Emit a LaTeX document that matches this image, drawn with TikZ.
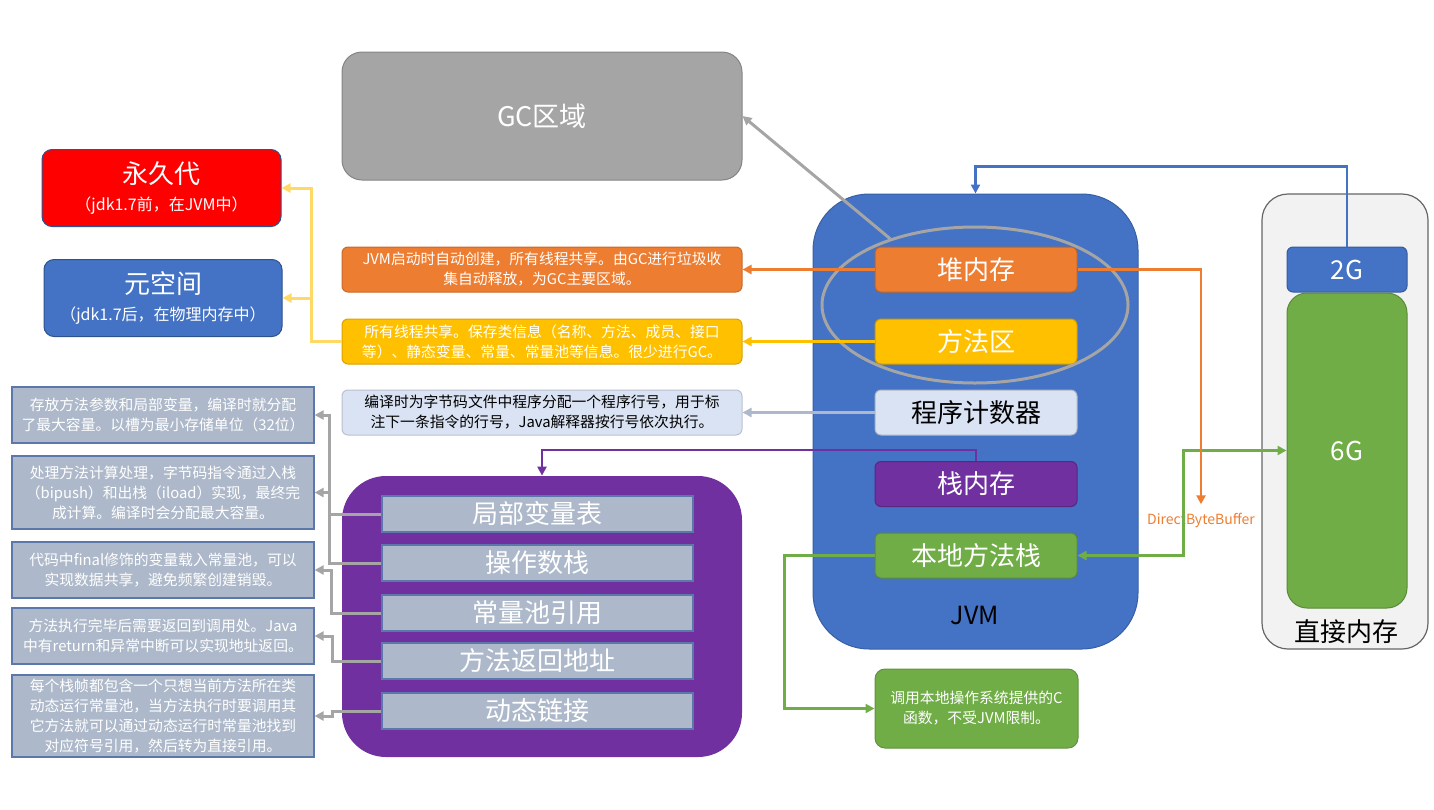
\documentclass[tikz,border=0pt]{standalone}
\usepackage{fontspec}
\setmainfont{Noto Sans CJK SC}
\usetikzlibrary{arrows.meta,positioning,shapes.geometric}
\definecolor{GCGray}{HTML}{A5A5A5}
\definecolor{JBlue}{HTML}{4472C4}
\definecolor{JDark}{HTML}{2F528F}
\definecolor{JOrange}{HTML}{ED7D31}
\definecolor{JGold}{HTML}{FFC000}
\definecolor{JLight}{HTML}{DAE3F3}
\definecolor{JPurple}{HTML}{7030A0}
\definecolor{JGreen}{HTML}{70AD47}
\definecolor{NoteGray}{HTML}{ADB9CA}
\definecolor{LineYellow}{HTML}{FFD966}
\definecolor{JRed}{HTML}{FF0000}

\begin{document}
\begin{tikzpicture}[x=0.5pt,y=-0.5pt,
    area/.style={fill=#1,draw=#1!80!black,line width=0.5pt,rounded corners=3pt,
      minimum width=101pt,minimum height=22.5pt,inner sep=0pt,text=white,
      font=\fontsize{13}{15}\selectfont},
    note/.style={fill=#1,draw=#1!85!black,line width=0.5pt,rounded corners=3pt,
      minimum width=200pt,minimum height=22.5pt,inner sep=1pt,align=center,
      text=white,font=\fontsize{7.4}{10}\selectfont},
    slot/.style={fill=NoteGray,draw=JBlue!60!gray,line width=0.6pt,
      minimum width=155.5pt,minimum height=18pt,inner sep=0pt,text=white,
      font=\fontsize{13}{15}\selectfont},
    sidenote/.style={fill=NoteGray,draw=JBlue!60!gray,line width=0.6pt,
      minimum width=151pt,inner sep=1pt,align=center,text=white,
      font=\fontsize{7.4}{10}\selectfont},
    conn/.style={draw=#1,line width=1.3pt,-{Triangle[length=4.5pt,width=4.5pt]}},
    graylink/.style={draw=GCGray,line width=1.5pt,-{Triangle[length=4.5pt,width=4.5pt]}}]
  \useasboundingbox (0,0) rectangle (1434,809);

  % containers
  \node[fill=GCGray,draw=GCGray!80!black,line width=0.5pt,rounded corners=10pt,
    minimum width=200pt,minimum height=64pt,text=white,
    font=\fontsize{13.5}{16}\selectfont] (gc) at (542,116) {GC区域};
  \node[fill=JRed,draw=JDark,line width=0.5pt,rounded corners=5pt,minimum width=119.5pt,
    minimum height=38.5pt,inner sep=0pt,align=center,text=white,
    font=\fontsize{13}{15}\selectfont] (perm) at (161.5,188)
    {永久代\\[-1.5pt]{\fontsize{8}{9}\selectfont （jdk1.7前，在JVM中）}};
  \node[fill=JBlue,draw=JDark,line width=0.5pt,rounded corners=5pt,minimum width=119pt,
    minimum height=38.5pt,inner sep=0pt,align=center,text=white,
    font=\fontsize{13}{15}\selectfont] (meta) at (163,298)
    {元空间\\[-1.5pt]{\fontsize{8}{9}\selectfont （jdk1.7后，在物理内存中）}};
  \node[fill=JBlue,draw=JDark!60!JBlue,line width=0.5pt,rounded corners=28pt,
    minimum width=162.5pt,minimum height=227.5pt] (jvm) at (975.5,421.5) {};
  \node[font=\fontsize{12.5}{14}\selectfont] (jvmlabel) at (975,615) {JVM};
  \node[fill=black!5,draw=black!60,line width=0.6pt,rounded corners=13pt,
    minimum width=83pt,minimum height=227.5pt] (direct) at (1345,421.5) {};
  \node[font=\fontsize{13}{15}\selectfont] (directlabel) at (1346,632) {直接内存};
  \node[area=JBlue,minimum width=60pt] (two) at (1347,269.5) {2G};
  \node[area=JGreen,rounded corners=10pt,minimum width=60pt,minimum height=157.5pt]
    (six) at (1347,450.5) {6G};

  % JVM areas
  \node[area=JOrange] (heap) at (976,269.5) {堆内存};
  \node[area=JGold] (method) at (976,341.5) {方法区};
  \node[area=JLight,text=black] (pc) at (976,412.5) {程序计数器};
  \node[area=JPurple] (stack) at (976,484) {栈内存};
  \node[area=JGreen] (native) at (976,555.5) {本地方法栈};
  \node[ellipse,draw=GCGray,line width=1.5pt,minimum width=153pt,minimum height=78pt,
    inner sep=0pt] (ring) at (975,305) {};

  % notes beside the areas
  \node[note=JOrange] (heapnote) at (542,269.5)
    {JVM启动时自动创建，所有线程共享。由GC进行垃圾收\\集自动释放，为GC主要区域。};
  \node[note=JGold] (methodnote) at (542,341.5)
    {所有线程共享。保存类信息（名称、方法、成员、接口\\等）、静态变量、常量、常量池等信息。很少进行GC。};
  \node[note=JLight,text=black] (pcnote) at (542,412.5)
    {编译时为字节码文件中程序分配一个程序行号，用于标\\注下一条指令的行号，Java解释器按行号依次执行。};
  \node[note=JGreen,rounded corners=5pt,minimum width=101.5pt,minimum height=39.5pt]
    (cnote) at (976.5,708.5) {调用本地操作系统提供的C\\函数，不受JVM限制。};

  % stack frame
  \node[fill=JPurple,rounded corners=22pt,minimum width=200pt,minimum height=140.5pt]
    (frame) at (542,616.5) {};
  \node[slot] (locals) at (537.5,514) {局部变量表};
  \node[slot] (operand) at (537.5,563) {操作数栈};
  \node[slot] (poolref) at (537.5,613) {常量池引用};
  \node[slot] (retaddr) at (537.5,661) {方法返回地址};
  \node[slot] (dynlink) at (537.5,711) {动态链接};

  \node[sidenote,minimum height=28pt] (n1) at (163,415)
    {存放方法参数和局部变量，编译时就分配\\了最大容量。以槽为最小存储单位（32位）};
  \node[sidenote,minimum height=36.5pt] (n2) at (163,492.5)
    {处理方法计算处理，字节码指令通过入栈\\（bipush）和出栈（iload）实现，最终完\\成计算。编译时会分配最大容量。};
  \node[sidenote,minimum height=28pt] (n3) at (163,570)
    {代码中final修饰的变量载入常量池，可以\\实现数据共享，避免频繁创建销毁。};
  \node[sidenote,minimum height=28pt] (n4) at (163,636)
    {方法执行完毕后需要返回到调用处。Java\\中有return和异常中断可以实现地址返回。};
  \node[sidenote,minimum height=41pt] (n5) at (163,716)
    {每个栈帧都包含一个只想当前方法所在类\\动态运行常量池，当方法执行时要调用其\\它方法就可以通过动态运行时常量池找到\\对应符号引用，然后转为直接引用。};

  \node[text=JOrange,font=\fontsize{7}{8}\selectfont,inner sep=1pt] (dbb) at (1201,520)
    {DirectByteBuffer};

  % connectors
  \draw[graylink] (ring.142) -- (gc.east);
  \draw[conn=JOrange] (heap.west) -- (heapnote.east);
  \draw[conn=JGold] (method.west) -- (methodnote.east);
  \draw[conn=NoteGray] (pc.west) -- (pcnote.east);
  \draw[conn=LineYellow,line width=1.5pt] (methodnote.west) -- ++(-30,0) |- (perm.east);
  \draw[conn=LineYellow,line width=1.5pt] (methodnote.west) -- ++(-30,0) |- (meta.east);
  \draw[conn=JPurple] (stack.north) -- ++(0,-11) -| (frame.north);
  \draw[conn=JGreen] (native.west) -- ++(-90,0) |- (cnote.west);
  \draw[conn=JGreen,{Triangle[length=4.5pt,width=4.5pt]}-{Triangle[length=4.5pt,width=4.5pt]}]
    (native.east) -- ++(106,0) |- (six.west);
  \draw[conn=JOrange,shorten >=3pt] (heap.east) -| (dbb.north);
  \draw[conn=JBlue] (two.north) -- ++(0,-80) -| (jvm.north);
  \draw[graylink] (locals.west) -- ++(-52,0) |- (n1.east);
  \draw[graylink] (operand.west) -- ++(-52,0) |- (n2.east);
  \draw[graylink] (poolref.west) -- ++(-50,0) |- (n3.east);
  \draw[graylink] (retaddr.west) -- ++(-49,0) |- (n4.east);
  \draw[graylink] (dynlink.west) -- ++(-49,0) |- (n5.east);
\end{tikzpicture}
\end{document}
